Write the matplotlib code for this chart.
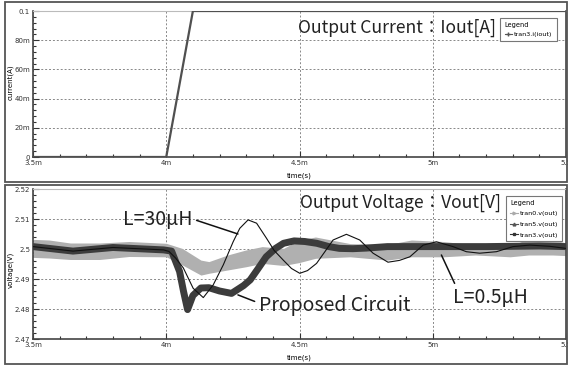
import numpy as np
import matplotlib
matplotlib.use('Agg')
import matplotlib.pyplot as plt
from matplotlib.lines import Line2D
from matplotlib.patches import Rectangle
from matplotlib.ticker import FixedLocator, FixedFormatter, MultipleLocator

# ---- data (time in ms) ----
t_i = [3.5, 4.0, 4.1, 5.5]
i_out = [0.0, 0.0, 0.1, 0.1]

# tran3 : proposed circuit (thick dark)
t3 = [3.5, 3.65, 3.8, 3.99, 4.02, 4.05, 4.065, 4.08, 4.1, 4.13, 4.16, 4.2, 4.245,
      4.29, 4.315, 4.345, 4.375, 4.41, 4.44, 4.48, 4.52, 4.565, 4.61, 4.65, 4.7, 4.75,
      4.83, 5.0, 5.2, 5.4, 5.5]
v3 = [2.5008, 2.4993, 2.5005, 2.4997, 2.4993, 2.4925, 2.4858, 2.4798, 2.4845, 2.4870,
      2.4871, 2.4860, 2.4852, 2.4878, 2.4897, 2.4935, 2.4974, 2.5002, 2.5019, 2.5027,
      2.5025, 2.5019, 2.5008, 2.5002, 2.5001, 2.5003, 2.5008, 2.5008, 2.5008, 2.5010, 2.5008]

# tran5 : L=30uH (thin black)
t5 = [3.5, 3.65, 3.8, 3.99, 4.01, 4.035, 4.064, 4.101, 4.139, 4.176, 4.214, 4.251,
      4.276, 4.307, 4.339, 4.376, 4.405, 4.439, 4.47, 4.501, 4.53, 4.564, 4.596, 4.626,
      4.676, 4.726, 4.776, 4.832, 4.875, 4.914, 4.964, 5.014, 5.076, 5.126, 5.176,
      5.239, 5.301, 5.364, 5.439, 5.5]
v5 = [2.5008, 2.4993, 2.5005, 2.4997, 2.4992, 2.4970, 2.4937, 2.4869, 2.4838, 2.4880,
      2.4947, 2.5024, 2.5069, 2.5097, 2.5086, 2.5036, 2.4995, 2.4963, 2.4935, 2.4919,
      2.4928, 2.4952, 2.4992, 2.5030, 2.5049, 2.5030, 2.4986, 2.4956, 2.4962, 2.4974,
      2.5013, 2.5024, 2.5008, 2.4991, 2.4986, 2.4991, 2.5008, 2.5013, 2.5009, 2.5002]

# tran0 : L=0.5uH (light gray noisy band)
t0 = [3.5, 3.56, 3.64, 3.75, 3.86, 4.0, 4.06, 4.13, 4.16, 4.23, 4.3, 4.36, 4.44, 4.5,
      4.56, 4.69, 4.83, 4.92, 5.04, 5.16, 5.29, 5.36, 5.45, 5.5]
v0_hi = [2.5032, 2.5030, 2.5020, 2.5020, 2.5025, 2.5019, 2.5002, 2.4963, 2.4958, 2.4980,
         2.4997, 2.5008, 2.5002, 2.5030, 2.5040, 2.5018, 2.5015, 2.5030, 2.5025, 2.5013,
         2.5008, 2.5036, 2.5032, 2.5020]
v0_lo = [2.4972, 2.4970, 2.4965, 2.4965, 2.4975, 2.4974, 2.4947, 2.4913, 2.4919, 2.4930,
         2.4941, 2.4952, 2.4945, 2.4955, 2.4969, 2.4974, 2.4963, 2.4974, 2.4974, 2.4980,
         2.4974, 2.4980, 2.4980, 2.4978]

x_ticks = [3.5, 4.0, 4.5, 5.0, 5.5]
x_labels = ['3.5m', '4m', '4.5m', '5m', '5.5']
i_ticks = [0, 0.02, 0.04, 0.06, 0.08, 0.1]
i_labels = ['0', '20m', '40m', '60m', '80m', '0.1']
v_ticks = [2.47, 2.48, 2.49, 2.50, 2.51, 2.52]
v_labels = ['2.47', '2.48', '2.49', '2.5', '2.51', '2.52']

jp = ['Noto Sans CJK JP', 'DejaVu Sans']
grid_kw = dict(color='#888888', linestyle=(0, (2, 2)), linewidth=0.7)

fig = plt.figure(figsize=(5.68, 3.67), dpi=100)
fig.patch.set_facecolor('white')

# outer panel frames
for y0, h in [(1 - 182 / 367, 180 / 367), (1 - 364 / 367, 179 / 367)]:
    fig.patches.append(Rectangle((5 / 568, y0), 562 / 568, h, transform=fig.transFigure,
                                 fill=False, edgecolor='#555555', linewidth=1.3))

ax1 = fig.add_axes([33 / 568, 1 - 157 / 367, 533 / 568, 146 / 367])
ax2 = fig.add_axes([33 / 568, 1 - 339 / 367, 533 / 568, 150 / 367])


def style(ax, yt, yl, yminor):
    ax.set_xlim(3.5, 5.5)
    ax.xaxis.set_major_locator(FixedLocator(x_ticks))
    ax.xaxis.set_major_formatter(FixedFormatter(x_labels))
    ax.xaxis.set_minor_locator(MultipleLocator(0.1))
    ax.yaxis.set_major_locator(FixedLocator(yt))
    ax.yaxis.set_major_formatter(FixedFormatter(yl))
    ax.yaxis.set_minor_locator(MultipleLocator(yminor))
    ax.tick_params(which='both', direction='in', labelsize=5, colors='#333333',
                   pad=2, width=0.8)
    ax.tick_params(which='major', length=4)
    ax.tick_params(which='minor', length=2)
    ax.grid(True, which='major', **grid_kw)
    for s in ['left', 'bottom', 'right']:
        ax.spines[s].set_color('#444444')
        ax.spines[s].set_linewidth(1.2)
    ax.spines['top'].set_color('#bbbbbb')
    ax.spines['top'].set_linewidth(0.8)


style(ax1, i_ticks, i_labels, 0.004)
ax1.set_ylim(0, 0.1)
ax1.plot(t_i, i_out, color='#505050', linewidth=1.6, zorder=3)
ax1.set_xlabel('time(s)', fontsize=5)
ax1.xaxis.set_label_coords(0.5, -0.105)
ax1.set_ylabel('current(A)', fontsize=5)
ax1.yaxis.set_label_coords(-0.036, 0.51)
ax1.text(4.494, 0.0884, 'Output Current\uff1aIout[A]', family=jp, fontsize=12.6,
         ha='left', va='center', color='#222222')
h1 = [Line2D([], [], color='#555555', lw=0.8, marker='+', markersize=3)]
leg1 = ax1.legend(h1, ['tran3.i(iout)'], title='Legend', loc='upper right',
                  bbox_to_anchor=(0.989, 0.975), fontsize=4.6, title_fontsize=4.8,
                  fancybox=False, edgecolor='#777777', framealpha=1,
                  handlelength=1.2, handletextpad=0.3, borderpad=0.7,
                  alignment='left')
leg1.get_frame().set_linewidth(0.8)

style(ax2, v_ticks, v_labels, 0.002)
ax2.set_ylim(2.47, 2.52)
ax2.fill_between(t0, v0_lo, v0_hi, color='#b0b0b0', linewidth=0, zorder=2)
ax2.plot(t3, v3, color='#3c3c3c', linewidth=5.0, solid_capstyle='butt', zorder=3)
ax2.plot(t5, v5, color='#111111', linewidth=0.8, zorder=4)
ax2.set_xlabel('time(s)', fontsize=5)
ax2.xaxis.set_label_coords(0.5, -0.105)
ax2.set_ylabel('voltage(V)', fontsize=5)
ax2.yaxis.set_label_coords(-0.036, 0.46)
ax2.text(4.5, 2.5153, 'Output Voltage\uff1aVout[V]', family=jp, fontsize=12.6,
         ha='left', va='center', color='#222222')

arrow = dict(arrowstyle='-', color='#111111', lw=1.1, shrinkA=1, shrinkB=0)
ax2.annotate('L=30\u03bcH', xy=(4.269, 2.505), xytext=(3.8375, 2.510),
             family=jp, fontsize=14, ha='left', va='center', color='#222222',
             arrowprops=dict(relpos=(1, 0.5), **arrow))
ax2.annotate('Proposed Circuit', xy=(4.269, 2.4847), xytext=(4.347, 2.4813),
             family=jp, fontsize=14, ha='left', va='center', color='#222222',
             arrowprops=dict(relpos=(0, 0.6), **arrow))
ax2.annotate('L=0.5\u03bcH', xy=(5.0325, 2.498), xytext=(5.075, 2.4837),
             family=jp, fontsize=14, ha='left', va='center', color='#222222',
             arrowprops=dict(relpos=(0.05, 1.0), **arrow))

h2 = [Line2D([], [], color='#aaaaaa', lw=0.8, marker='>', markersize=2),
      Line2D([], [], color='#555555', lw=0.8, marker='^', markersize=2),
      Line2D([], [], color='#333333', lw=0.8, marker='s', markersize=2)]
leg2 = ax2.legend(h2, ['tran0.v(out)', 'tran5.v(out)', 'tran3.v(out)'], title='Legend',
                  loc='upper right', bbox_to_anchor=(0.998, 0.975), fontsize=4.6,
                  title_fontsize=4.8, fancybox=False, edgecolor='#777777', framealpha=1,
                  handlelength=1.2, handletextpad=0.3, borderpad=0.6,
                  labelspacing=0.8, alignment='left')
leg2.get_frame().set_linewidth(0.8)

fig.savefig('out.png', dpi=100)
